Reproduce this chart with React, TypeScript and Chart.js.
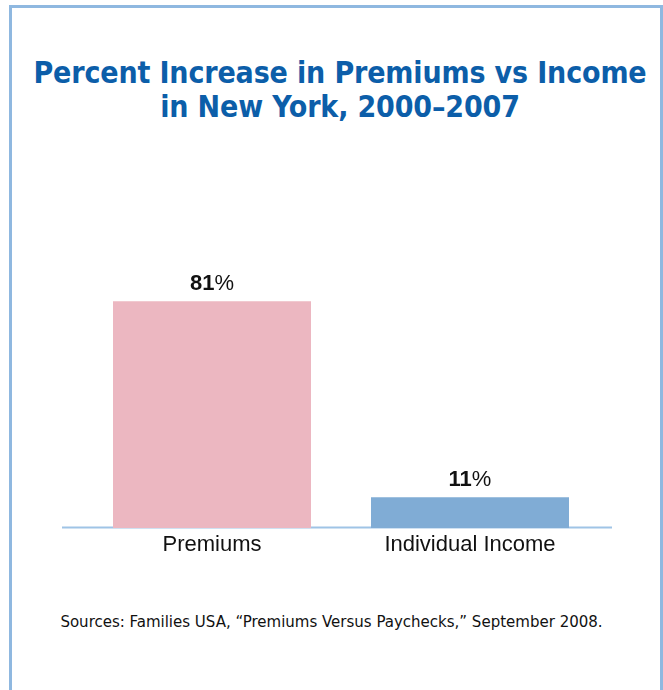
import React, { useEffect, useRef } from 'react';
import { Chart, registerables } from 'chart.js';
Chart.register(...registerables);

const titleLines = ['Percent Increase in Premiums vs Income', 'in New York, 2000\u20132007'];
const categories = ['Premiums', 'Individual Income'];
const values = [81, 11];
const valueLabels = ['81', '11'];
const barColors = ['#ecb7c1', '#80acd5'];
const yMax = 100;
const sourceText = 'Sources: Families USA, \u201cPremiums Versus Paychecks,\u201d September 2008.';

export default function App() {
  const ref = useRef<HTMLCanvasElement>(null);
  useEffect(() => {
    if (!ref.current) return;
    const deco = {
      id: 'deco',
      beforeDatasetsDraw(chart: any) {
        const ctx = chart.ctx;
        const a = chart.chartArea;
        ctx.save();
        ctx.strokeStyle = '#9fc4e6';
        ctx.lineWidth = 2;
        ctx.beginPath();
        ctx.moveTo(a.left - 21, a.bottom - 0.5);
        ctx.lineTo(a.right + 13, a.bottom - 0.5);
        ctx.stroke();
        ctx.restore();
      },
      afterDatasetsDraw(chart: any) {
        const ctx = chart.ctx;
        const a = chart.chartArea;
        const meta = chart.getDatasetMeta(0);
        ctx.save();
        ctx.fillStyle = '#111111';
        ctx.textBaseline = 'middle';
        meta.data.forEach((bar: any, i: number) => {
          const boldFont = 'bold 22px "Liberation Sans", Arial, sans-serif';
          const normFont = '22px "Liberation Sans", Arial, sans-serif';
          ctx.font = boldFont;
          const w1 = ctx.measureText(valueLabels[i]).width;
          ctx.font = normFont;
          const w2 = ctx.measureText('%').width;
          const x0 = bar.x - (w1 + w2) / 2;
          const y = bar.y - 17;
          ctx.textAlign = 'left';
          ctx.font = boldFont;
          ctx.fillText(valueLabels[i], x0, y);
          ctx.font = normFont;
          ctx.fillText('%', x0 + w1, y);
          ctx.textAlign = 'center';
          ctx.font = '22px "Liberation Sans", Arial, sans-serif';
          ctx.fillText(categories[i], bar.x, a.bottom + 17);
        });
        ctx.restore();
      },
    };
    const chart = new Chart(ref.current, {
      type: 'bar',
      data: {
        labels: categories,
        datasets: [
          {
            data: values,
            backgroundColor: barColors,
            borderWidth: 0,
            barPercentage: 198 / 258,
            categoryPercentage: 1,
          },
        ],
      },
      options: {
        responsive: false,
        animation: false,
        devicePixelRatio: 1,
        layout: { padding: { top: 48, bottom: 72, left: 83, right: 64 } },
        scales: {
          x: { display: false },
          y: { display: false, min: 0, max: yMax },
        },
        plugins: { legend: { display: false }, tooltip: { enabled: false } },
      },
      plugins: [deco],
    });
    return () => chart.destroy();
  }, []);

  return (
    <div style={{ position: 'absolute', left: 0, top: 0, width: 663, height: 690, background: '#fff', overflow: 'hidden' }}>
      <div
        style={{
          position: 'absolute',
          left: 9,
          top: 5,
          width: 648,
          height: 700,
          borderLeft: '3px solid #8fb8e0',
          borderTop: '3px solid #8fb8e0',
          borderRight: '3px solid #8fb8e0',
        }}
      />
      <div
        style={{
          position: 'absolute',
          left: 0,
          top: 56,
          width: 680,
          textAlign: 'center',
          fontFamily: '"DejaVu Sans Condensed", "Liberation Sans Narrow", Arial, sans-serif',
          fontWeight: 'bold',
          fontSize: 30,
          letterSpacing: '-0.15px',
          lineHeight: '34px',
          color: '#0c5ea9',
        }}
      >
        <div>{titleLines[0]}</div>
        <div>{titleLines[1]}</div>
      </div>
      <canvas ref={ref} width={663} height={400} style={{ position: 'absolute', left: 0, top: 200 }} />
      <div
        style={{
          position: 'absolute',
          left: 0,
          top: 610,
          width: 663,
          textAlign: 'center',
          fontFamily: '"DejaVu Sans Condensed", "Liberation Sans Narrow", Arial, sans-serif',
          fontSize: 16.7,
          lineHeight: '22px',
          color: '#111',
        }}
      >
        {sourceText}
      </div>
    </div>
  );
}
